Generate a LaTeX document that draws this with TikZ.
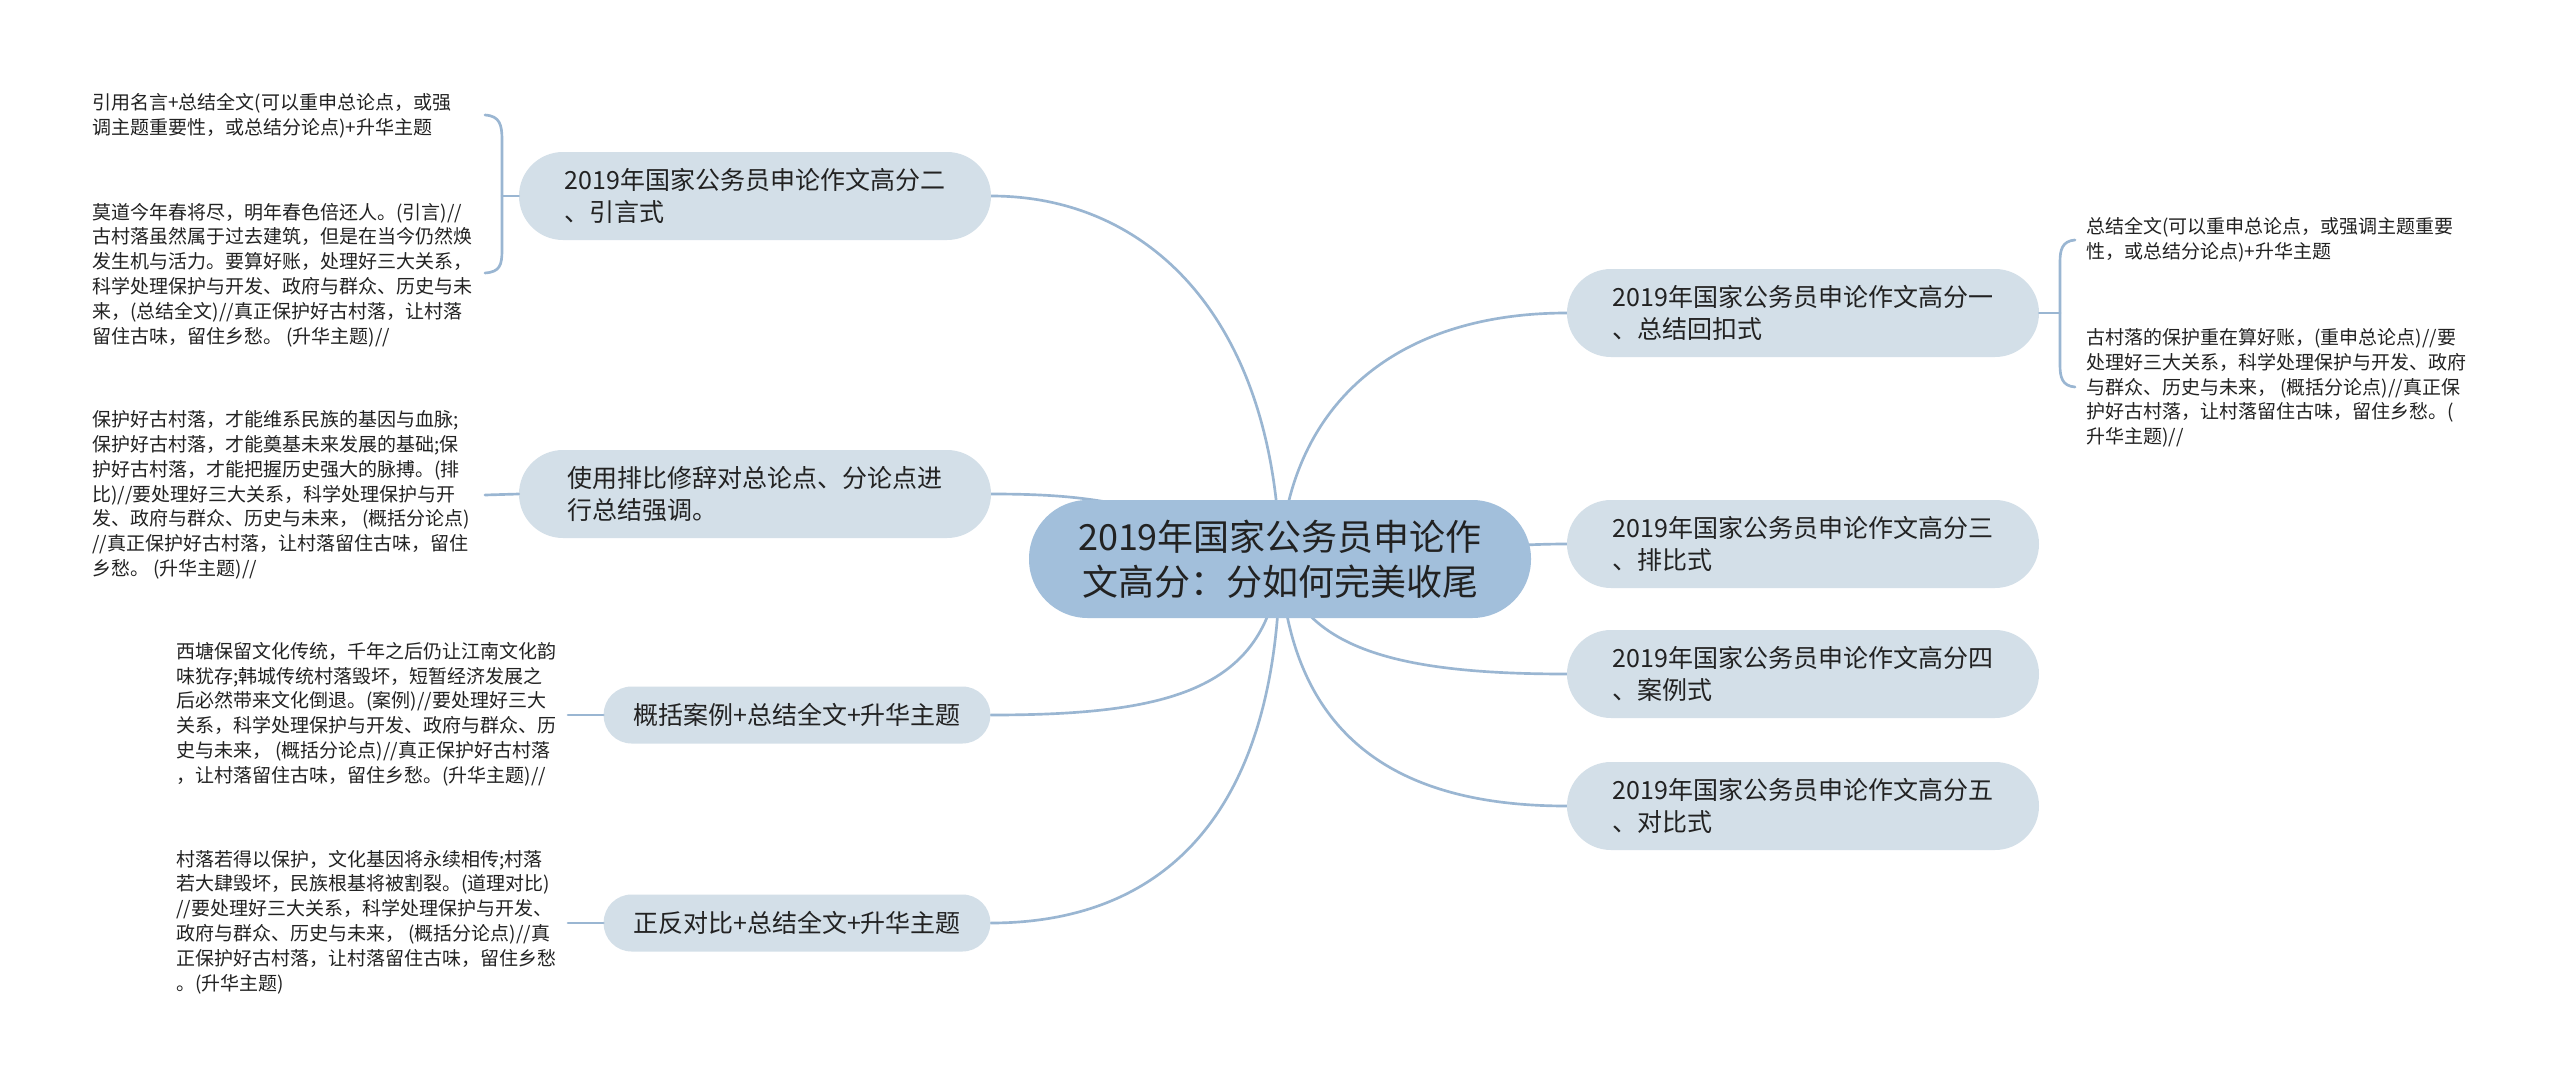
\documentclass[tikz,border=0pt]{standalone}
\usepackage{fontspec}
\setmainfont{Noto Sans CJK SC}
\pgfdeclarelayer{bg}
\pgfsetlayers{bg,main}
\definecolor{edgec}{HTML}{9AB6D2}
\definecolor{rootc}{HTML}{A2BFDB}
\definecolor{subc}{HTML}{D3DFE8}
\definecolor{txtc}{HTML}{222222}
\tikzset{
  rootbox/.style={fill=rootc, rounded corners=44pt, minimum width=376.5pt, minimum height=88.5pt,
    align=center, text=txtc, font=\fontsize{27pt}{33.75pt}\selectfont, inner sep=0pt},
  subbox/.style={fill=subc, rounded corners=33pt, minimum width=354pt, minimum height=66pt,
    align=left, text=txtc, font=\fontsize{18.75pt}{24.5pt}\selectfont, inner sep=0pt},
  smallbox/.style={fill=subc, rounded corners=21pt, minimum width=290pt, minimum height=42.75pt,
    align=left, text=txtc, font=\fontsize{18.75pt}{24.5pt}\selectfont, inner sep=0pt},
  leaf/.style={anchor=west, align=left, text=txtc, font=\fontsize{14.25pt}{18.6pt}\selectfont, inner sep=0pt},
  link/.style={draw=edgec, line width=2pt, line cap=round},
}
\begin{document}
\begin{tikzpicture}[x=0.75pt,y=-0.75pt]
\useasboundingbox (0,0) rectangle (2560,1089);

% root
\node[rootbox] (root) at (1280,559) {2019年国家公务员申论作\\文高分：分如何完美收尾};

% left branches
\node[subbox] (n2) at (755,196) {2019年国家公务员申论作文高分二\\、引言式};
\node[subbox] (nb) at (755,494) {使用排比修辞对总论点、分论点进\\行总结强调。};
\node[smallbox] (nc) at (797,715) {概括案例+总结全文+升华主题};
\node[smallbox] (nd) at (797,923) {正反对比+总结全文+升华主题};

% right branches
\node[subbox] (n1) at (1803,313) {2019年国家公务员申论作文高分一\\、总结回扣式};
\node[subbox] (n3) at (1803,544) {2019年国家公务员申论作文高分三\\、排比式};
\node[subbox] (n4) at (1803,674) {2019年国家公务员申论作文高分四\\、案例式};
\node[subbox] (n5) at (1803,806) {2019年国家公务员申论作文高分五\\、对比式};

% leaves
\node[leaf] (la1) at (92,116) {引用名言+总结全文(可以重申总论点，或强\\调主题重要性，或总结分论点)+升华主题};
\node[leaf] (la2) at (92,275) {莫道今年春将尽，明年春色倍还人。(引言)//\\古村落虽然属于过去建筑，但是在当今仍然焕\\发生机与活力。要算好账，处理好三大关系，\\科学处理保护与开发、政府与群众、历史与未\\来，(总结全文)//真正保护好古村落，让村落\\留住古味，留住乡愁。 (升华主题)//};
\node[leaf] (lb) at (92,495) {保护好古村落，才能维系民族的基因与血脉;\\保护好古村落，才能奠基未来发展的基础;保\\护好古村落，才能把握历史强大的脉搏。(排\\比)//要处理好三大关系，科学处理保护与开\\发、政府与群众、历史与未来， (概括分论点)\\//真正保护好古村落，让村落留住古味，留住\\乡愁。 (升华主题)//};
\node[leaf] (lc) at (176,714) {西塘保留文化传统，千年之后仍让江南文化韵\\味犹存;韩城传统村落毁坏，短暂经济发展之\\后必然带来文化倒退。(案例)//要处理好三大\\关系，科学处理保护与开发、政府与群众、历\\史与未来， (概括分论点)//真正保护好古村落\\，让村落留住古味，留住乡愁。(升华主题)//};
\node[leaf] (ld) at (176,922) {村落若得以保护，文化基因将永续相传;村落\\若大肆毁坏，民族根基将被割裂。(道理对比)\\//要处理好三大关系，科学处理保护与开发、\\政府与群众、历史与未来， (概括分论点)//真\\正保护好古村落，让村落留住古味，留住乡愁\\。(升华主题)};
\node[leaf] (ra1) at (2086,240) {总结全文(可以重申总论点，或强调主题重要\\性，或总结分论点)+升华主题};
\node[leaf] (ra2) at (2086,388) {古村落的保护重在算好账，(重申总论点)//要\\处理好三大关系，科学处理保护与开发、政府\\与群众、历史与未来， (概括分论点)//真正保\\护好古村落，让村落留住古味，留住乡愁。(\\升华主题)//};

% bracket / connector end points
\coordinate (bl) at (502,196);
\coordinate (blt) at (485,115);
\coordinate (blb) at (485,273);
\coordinate (br) at (2060,313);
\coordinate (brt) at (2075,240);
\coordinate (brb) at (2075,387);
\coordinate (lbe) at (485,495);
\coordinate (lce) at (568,715);
\coordinate (lde) at (568,923);

\begin{pgfonlayer}{bg}
\fill[white] (0,0) rectangle (2560,1089);
% root to branches
\draw[link] (root.center) .. controls (1275,320) and (1150,196) .. (n2.east);
\draw[link] (root.center) .. controls (1150,505) and (1100,494) .. (nb.east);
\draw[link] (root.center) .. controls (1270,690) and (1170,715) .. (nc.east);
\draw[link] (root.center) .. controls (1278,830) and (1150,923) .. (nd.east);
\draw[link] (root.center) .. controls (1290,400) and (1400,313) .. (n1.west);
\draw[link] (root.center) .. controls (1450,552) and (1500,544) .. (n3.west);
\draw[link] (root.center) .. controls (1300,650) and (1400,674) .. (n4.west);
\draw[link] (root.center) .. controls (1290,740) and (1400,806) .. (n5.west);
\end{pgfonlayer}

% left bracket for n2
\draw[link] (blt) .. controls (500,116) and (502,125) .. (502,140) -- (502,250) .. controls (502,265) and (500,272) .. (blb);
\draw[link] (bl) -- (n2.west);
% right bracket for n1
\draw[link] (brt) .. controls (2062,241) and (2060,250) .. (2060,262) -- (2060,365) .. controls (2060,377) and (2062,386) .. (brb);
\draw[link] (n1.east) -- (br);
% single leaf connectors
\draw[link] (lbe) -- (nb.west);
\draw[link] (lce) -- (nc.west);
\draw[link] (lde) -- (nd.west);
\end{tikzpicture}
\end{document}
